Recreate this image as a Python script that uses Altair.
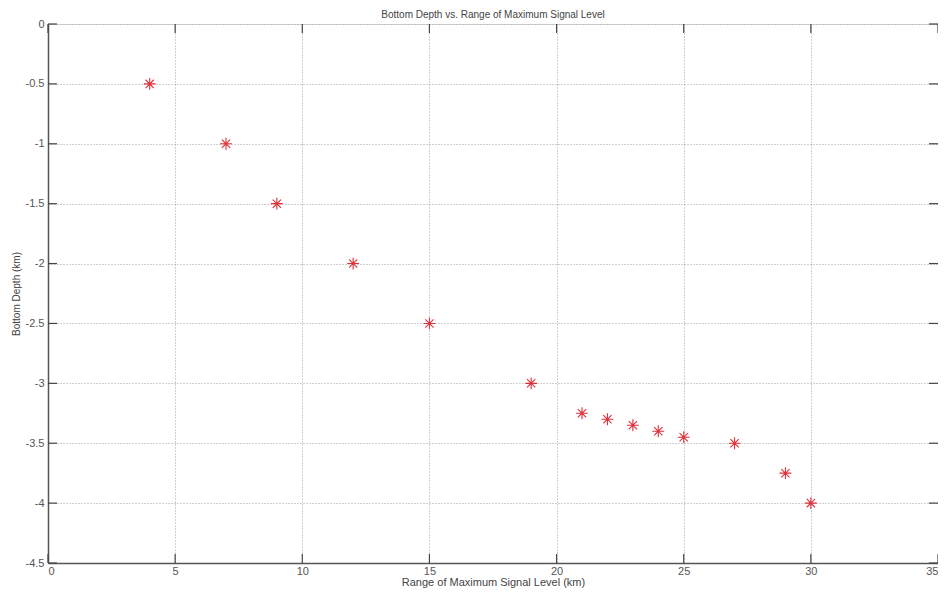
import altair as alt
import pandas as pd

range_km = [4, 7, 9, 12, 15, 19, 21, 22, 23, 24, 25, 27, 29, 30]
depth_km = [-0.5, -1.0, -1.5, -2.0, -2.5, -3.0, -3.25, -3.3, -3.35, -3.4, -3.45, -3.5, -3.75, -4.0]
x_ticks = [0, 5, 10, 15, 20, 25, 30, 35]
y_ticks = [0, -0.5, -1, -1.5, -2, -2.5, -3, -3.5, -4, -4.5]
title_text = ["Bottom Depth vs. Range of Maximum Signal Level"]

df = pd.DataFrame({"range": range_km, "depth": depth_km})
dx = pd.DataFrame({"t": x_ticks})
dy = pd.DataFrame({"t": y_ticks})
dt = pd.DataFrame({"title": title_text})

W, H = 890, 539
FONT = "Liberation Sans"
xs = alt.Scale(domain=[0, 35], nice=False, zero=False)
ys = alt.Scale(domain=[-4.5, 0], nice=False, zero=False)

star = "M-1,0L1,0M0,-1L0,1M-0.7,-0.7L0.7,0.7M-0.7,0.7L0.7,-0.7"

pts = alt.Chart(df).mark_point(
    shape=star, filled=False, stroke="#e0303a", strokeWidth=1.1, size=140, opacity=1
).encode(
    x=alt.X("range:Q", scale=xs,
            axis=alt.Axis(values=x_ticks, title="Range of Maximum Signal Level (km)",
                          labelExpr="toString(datum.value)",
                          grid=True, gridDash=[1, 2], gridColor="#a0a0a0", gridWidth=1,
                          domainColor="#555", domainWidth=1.5, ticks=False,
                          labelFont=FONT, labelFontSize=11, labelColor="#555",
                          labelPadding=2, titleFont=FONT, titleFontSize=11,
                          titleFontWeight="normal", titleColor="#444", titlePadding=0)),
    y=alt.Y("depth:Q", scale=ys,
            axis=alt.Axis(values=y_ticks, title="Bottom Depth (km)",
                          labelExpr="toString(datum.value)",
                          grid=True, gridDash=[1, 2], gridColor="#a0a0a0", gridWidth=1,
                          domainColor="#555", domainWidth=1.5, ticks=False,
                          labelFont=FONT, labelFontSize=11, labelColor="#555",
                          labelPadding=4, titleFont=FONT, titleFontSize=10,
                          titleFontWeight="normal", titleColor="#444", titlePadding=4)),
)

xt_bot = alt.Chart(dx).mark_rule(color="#444", strokeWidth=1.2).encode(
    x=alt.X("t:Q", scale=xs), y=alt.value(H), y2=alt.value(H - 9))
xt_top = alt.Chart(dx).mark_rule(color="#444", strokeWidth=1.2).encode(
    x=alt.X("t:Q", scale=xs), y=alt.value(0), y2=alt.value(9))
yt_left = alt.Chart(dy).mark_rule(color="#444", strokeWidth=1.2).encode(
    y=alt.Y("t:Q", scale=ys), x=alt.value(0), x2=alt.value(9))
yt_right = alt.Chart(dy).mark_rule(color="#444", strokeWidth=1.2).encode(
    y=alt.Y("t:Q", scale=ys), x=alt.value(W), x2=alt.value(W - 9))

title = alt.Chart(dt).mark_text(
    font=FONT, fontSize=10, color="#444", align="center", baseline="alphabetic"
).encode(x=alt.value(W / 2), y=alt.value(-6), text="title:N")

chart = alt.layer(pts, xt_bot, xt_top, yt_left, yt_right, title).properties(
    width=W, height=H,
    autosize=alt.AutoSizeParams(type="none"),
    padding={"left": 40, "top": 16, "right": 0, "bottom": 25},
).configure_view(stroke="#555", strokeWidth=1.5).configure(background="white")

chart.save("out.html", embed_options={"renderer": "svg", "actions": False})
